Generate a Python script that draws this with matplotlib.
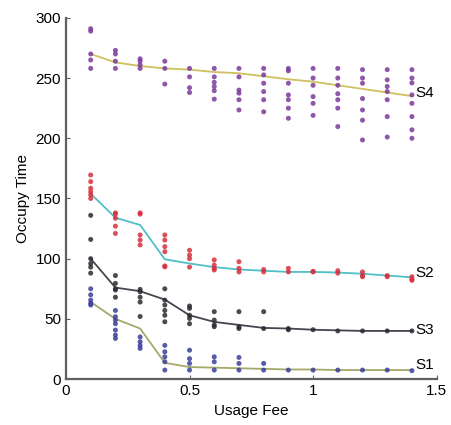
import matplotlib
matplotlib.use('Agg')
import matplotlib.pyplot as plt

plt.rcParams['font.family'] = ['Liberation Sans', 'DejaVu Sans']

fees = [0.1, 0.2, 0.3, 0.4, 0.5, 0.6, 0.7, 0.8, 0.9, 1.0, 1.1, 1.2, 1.3, 1.4]

# mean curves
s1_mean = [64, 50, 42, 13.5, 10, 9.5, 9, 8.5, 8, 8, 7.5, 7.5, 7.5, 7.5]
s2_mean = [154, 134, 128, 99.5, 96, 93, 91, 90, 89, 89, 88.5, 87.5, 86, 84.5]
s3_mean = [100, 76, 73, 66, 53, 47.5, 45, 42.5, 42, 41, 40.5, 40, 40, 40]
s4_mean = [270, 263, 260, 258, 257, 255, 254, 251.5, 249, 247, 244, 241, 238, 235]

# observed samples per fee level
s1_pts = [[75, 70, 65.6, 61.5, 63], [57, 51.8, 49, 46, 40.7, 36.6, 33.8],
          [35, 31, 28, 25.5], [28, 22.7, 18.5, 14.4, 7.5], [24, 17, 13, 7.5],
          [18.5, 14.4, 7.5], [18, 13, 7.5], [13, 7.5], [7.5], [7.5], [7.5],
          [7.5], [7.5], [7]]
s2_pts = [[169.5, 164, 158.5, 155.6, 153, 150], [138, 137, 133.6, 127, 121],
          [138, 137, 119.7, 115.5, 111.4], [119.7, 115.5, 110, 105.8, 94, 93.2],
          [107, 103, 100, 93], [99, 94.7, 92, 90.6], [97.5, 92, 89], [91, 89],
          [92, 89], [89, 89.5], [90, 88], [89, 86, 85], [86, 85], [85, 83, 82]]
s3_pts = [[136, 116, 100, 96, 93, 88], [86, 79.5, 75, 74, 68],
          [74.5, 72.5, 68, 64, 52], [75, 65.6, 61.5, 57, 53, 47.6],
          [60.7, 58.7, 53, 50.4, 46], [56, 49, 45, 43.5], [56, 43.5, 42],
          [56, 42], [42, 41], [41], [40], [40], [40], [40]]
s4_pts = [[289, 291, 270, 265, 258], [273, 270, 264, 258], [266, 264, 261, 258],
          [264, 258, 245], [258, 251, 242, 238],
          [258, 251, 246.5, 243, 239.5, 232.5], [258, 251, 240, 237.5, 232, 223.5],
          [258, 252.6, 245.7, 238.8, 232, 222],
          [258, 256, 245.7, 236, 232, 225, 216.6], [258, 250, 244, 234.6, 229, 219],
          [258, 250, 244, 237, 232, 225, 209.7],
          [257, 250, 245.7, 233, 223.5, 215, 198.6],
          [257, 248.5, 243, 238.8, 232, 218, 201],
          [257, 250, 246, 236, 229, 218, 207, 200]]

series = [
    ('S4', s4_pts, s4_mean, '#7a3a9a', '#cfc060', 238),
    ('S2', s2_pts, s2_mean, '#d8303c', '#4fbfc8', 88),
    ('S3', s3_pts, s3_mean, '#2a2a30', '#45464f', 41),
    ('S1', s1_pts, s1_mean, '#3a3f9a', '#a4a868', 12),
]

fig = plt.figure(figsize=(4.52, 4.25), dpi=100)
ax = fig.add_axes([0.146, 0.108, 0.82, 0.85])

for name, pts, mean, dot_c, line_c, label_y in series:
    xs, ys = [], []
    for f, col in zip(fees, pts):
        xs += [f] * len(col)
        ys += col
    ax.plot(fees, mean, color=line_c, lw=1.3, zorder=2)
    ax.scatter(xs, ys, s=13, color=dot_c, edgecolors='none', alpha=0.85, zorder=3)
    ax.text(1.415, label_y, name, fontsize=11, va='center', ha='left')

ax.set_xlim(0, 1.5)
ax.set_ylim(0, 300)
ax.set_xticks([0, 0.5, 1, 1.5])
ax.set_xticklabels(['0', '0.5', '1', '1.5'])
ax.set_yticks(range(0, 301, 50))
ax.tick_params(direction='in', length=3, labelsize=11, color='#606060')
ax.spines[['top', 'right']].set_visible(False)
for sp in ['left', 'bottom']:
    ax.spines[sp].set_color('#606060')
    ax.spines[sp].set_linewidth(1.6)
ax.set_xlabel('Usage Fee', fontsize=11)
ax.set_ylabel('Occupy Time', fontsize=11)

fig.savefig('out.png', dpi=100)
